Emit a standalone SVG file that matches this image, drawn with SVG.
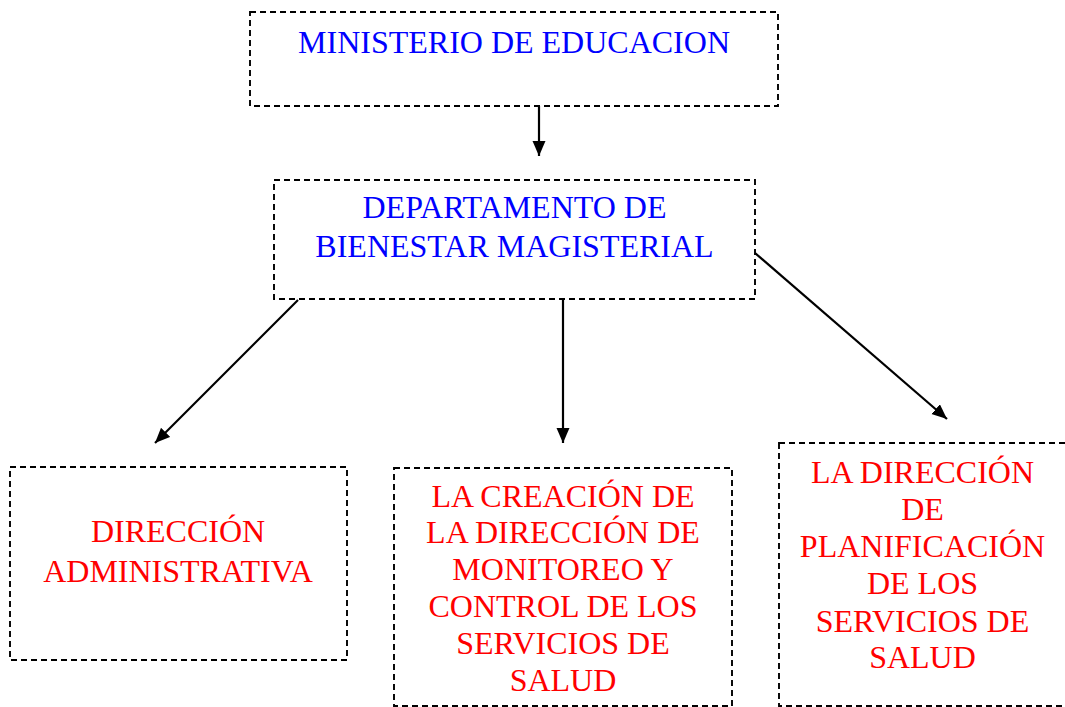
<svg xmlns="http://www.w3.org/2000/svg" width="1065" height="707" viewBox="0 0 1065 707">
<defs>
<marker id="ah" markerUnits="userSpaceOnUse" markerWidth="16" markerHeight="14" refX="15" refY="6.5" orient="auto">
<path d="M0,0 L15,6.5 L0,13 Z" fill="#000"/>
</marker>
<style>
.box{fill:#fff;stroke:#000;stroke-width:1.9;stroke-dasharray:6 4}
.t{font-family:"Liberation Serif","Times New Roman",serif;font-size:32px;text-anchor:middle}
.blue{fill:#0000ff}
.red{fill:#ff0000}
.c{stroke:#000;stroke-width:2.2;fill:none;marker-end:url(#ah)}
</style>
</defs>
<rect width="1065" height="707" fill="#fff"/>
<g id="ministerio">
<rect class="box" x="250" y="12" width="528" height="94"/>
<text class="t blue" x="514" y="53">MINISTERIO DE EDUCACION</text>
</g>
<g id="departamento">
<rect class="box" x="274" y="180" width="481" height="119"/>
<text class="t blue" x="514.5" y="218">DEPARTAMENTO DE</text>
<text class="t blue" x="514.5" y="257">BIENESTAR MAGISTERIAL</text>
</g>
<g id="administrativa">
<rect class="box" x="10" y="467" width="337" height="193"/>
<text class="t red" x="178" y="542">DIRECCIÓN</text>
<text class="t red" x="178" y="582">ADMINISTRATIVA</text>
</g>
<g id="monitoreo">
<rect class="box" x="394" y="468" width="338" height="238"/>
<text class="t red" x="563" y="507">LA CREACIÓN DE</text>
<text class="t red" x="563" y="543">LA DIRECCIÓN DE</text>
<text class="t red" x="563" y="580">MONITOREO Y</text>
<text class="t red" x="563" y="617">CONTROL DE LOS</text>
<text class="t red" x="563" y="654">SERVICIOS DE</text>
<text class="t red" x="563" y="691">SALUD</text>
</g>
<g id="planificacion">
<rect class="box" x="779" y="443" width="290" height="263"/>
<text class="t red" x="922.5" y="483">LA DIRECCIÓN</text>
<text class="t red" x="922.5" y="520">DE</text>
<text class="t red" x="922.5" y="557">PLANIFICACIÓN</text>
<text class="t red" x="922.5" y="594">DE LOS</text>
<text class="t red" x="922.5" y="632">SERVICIOS DE</text>
<text class="t red" x="922.5" y="668">SALUD</text>
</g>
<g id="connectors">
<line class="c" x1="539" y1="106" x2="539" y2="156"/>
<line class="c" x1="298" y1="300" x2="155" y2="443"/>
<line class="c" x1="563" y1="299" x2="563" y2="443"/>
<line class="c" x1="755" y1="253" x2="947" y2="419"/>
</g>
</svg>
